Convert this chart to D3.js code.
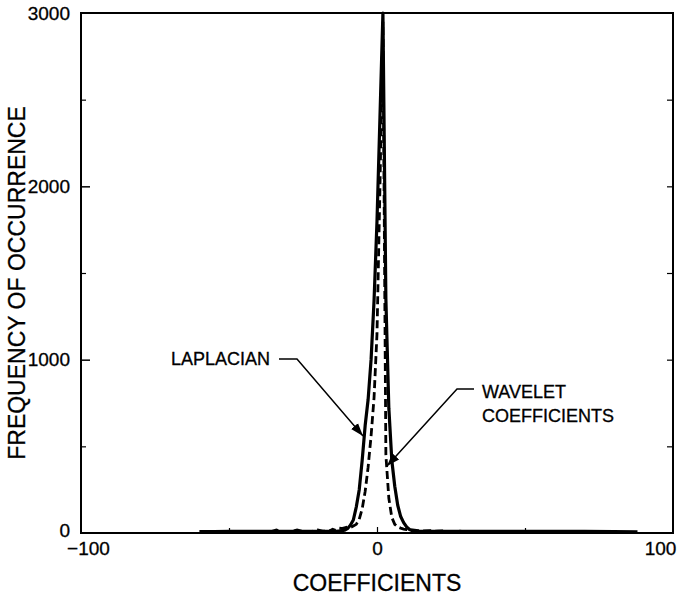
<!DOCTYPE html>
<html>
<head>
<meta charset="utf-8">
<script src="https://cdn.jsdelivr.net/npm/d3@7"></script>
<style>
  html, body { margin: 0; padding: 0; background: #fff; }
  svg { display: block; }
  text { font-family: "Liberation Sans", Arial, Helvetica, sans-serif; fill: #000; stroke: #000; stroke-width: 0.3px; }
</style>
</head>
<body>
<svg id="chart" width="680" height="599"></svg>
<script>
// ---- data ----
const laplacianCoef = [-60,-55,-50,-45,-40,-35,-30,-25,-20,-18,-16,-14,-13,-12,-11,-10,-9,-8,-7,-6,-5,-4,-3,-2,-1,0,1,2,3,4,5,6,7,8,9,10,11,12,13,14,16,18,20,25,30,40,50,60,70,80,88];
const laplacianFreq = [8,8,9,9,9,9,9,9,9,9,10,10,11,12,16,25,45,75,150,250,420,620,770,1000,1340,1800,2400,3000,1350,720,420,270,160,95,60,35,20,13,11,10,10,9,9,9,9,9,9,9,9,8,6];

const waveletCoef = [-40,-36,-34,-32,-29,-27,-25,-22,-20,-18,-17,-16,-15,-14,-13,-12,-11,-10,-9,-8,-7,-6,-5,-4,-3,-2,-1,0,1,2,3,4,5,6,7,8,9,10,12,14,16,18,20,22,25,28,30,35];
const waveletFreq = [6,7,18,7,7,18,8,8,17,10,18,12,22,16,28,26,30,34,32,40,50,80,140,240,380,560,780,1150,2000,2950,450,200,90,50,35,28,22,20,18,14,12,14,10,12,8,10,6,5];

const yMajorTicks = [0, 1000, 2000, 3000];
const yMinorTicks = [500, 1500, 2500];
const yRightTicks = [500, 1000, 1500, 2000, 2500];
const xMajorTicks = [-100, 0, 100];
const xMinorTicks = [-50, 50];

const xTitle = "COEFFICIENTS";
const yTitle = "FREQUENCY OF OCCURRENCE";
const laplacianLabel = "LAPLACIAN";
const waveletLabel = ["WAVELET", "COEFFICIENTS"];

// ---- layout ----
const svg = d3.select("#chart");
const L = 81, R = 673, T = 13, B = 533;
const x = d3.scaleLinear().domain([-100, 100]).range([L, R]);
const y = d3.scaleLinear().domain([0, 3000]).range([B, T]);
const FS = 19;

// frame
svg.append("rect").attr("x", L).attr("y", T).attr("width", R - L).attr("height", B - T)
  .attr("fill", "none").attr("stroke", "#000").attr("stroke-width", 2);

// left axis (major, labelled)
const gl = svg.append("g").attr("transform", `translate(${L},0)`)
  .call(d3.axisLeft(y).tickValues(yMajorTicks).tickSize(-9).tickPadding(11).tickFormat(d3.format("d")));
gl.selectAll("text").style("font-size", FS + "px").attr("dy", "0.32em");
gl.select(".domain").remove();
gl.selectAll("line").attr("stroke-width", 1.5);
gl.selectAll(".tick").filter(d => d === 0 || d === 3000).select("line").remove();
gl.selectAll(".tick").filter(d => d === 0).select("text").attr("dy", "0.2em");

const glm = svg.append("g").attr("transform", `translate(${L},0)`)
  .call(d3.axisLeft(y).tickValues(yMinorTicks).tickSize(-5).tickFormat(""));
glm.select(".domain").remove();
glm.selectAll("line").attr("stroke-width", 1.2);

// right axis
const gr = svg.append("g").attr("transform", `translate(${R},0)`)
  .call(d3.axisRight(y).tickValues(yRightTicks).tickSize(-6).tickFormat(""));
gr.select(".domain").remove();
gr.selectAll("line").attr("stroke-width", 1.2);

// bottom axis
const gb = svg.append("g").attr("transform", `translate(0,${B})`)
  .call(d3.axisBottom(x).tickValues(xMajorTicks).tickSize(-6).tickPadding(9)
    .tickFormat(d => d < 0 ? "\u2212" + Math.abs(d) : d));
gb.select(".domain").remove();
gb.selectAll("text").style("font-size", FS + "px").attr("dy", "0.71em");
gb.selectAll(".tick").filter(d => d !== 0).select("line").remove();
gb.selectAll(".tick").filter(d => d === -100).select("text").attr("dx", 7);
gb.selectAll(".tick").filter(d => d === 100).select("text").attr("dx", -13);
gb.selectAll("line").attr("stroke-width", 1.2);

const gbm = svg.append("g").attr("transform", `translate(0,${B})`)
  .call(d3.axisBottom(x).tickValues(xMinorTicks).tickSize(-5).tickFormat(""));
gbm.select(".domain").remove();
gbm.selectAll("line").attr("stroke-width", 1.2);

// titles
svg.append("text").attr("x", x(0)).attr("y", 591).attr("text-anchor", "middle")
  .style("font-size", "23px").text(xTitle);
svg.append("text").attr("transform", `translate(25,283) rotate(-90)`)
  .attr("text-anchor", "middle").style("font-size", "23px").text(yTitle);

// curves
const lap = laplacianCoef.map((c, i) => [c, laplacianFreq[i]]);
const wav = waveletCoef.map((c, i) => [c, waveletFreq[i]]);
const line = d3.line().x(d => x(d[0])).y(d => y(d[1]));

svg.append("path").datum(lap).attr("d", line).attr("fill", "none")
  .attr("stroke", "#000").attr("stroke-width", 3.2).attr("stroke-linejoin", "round");
svg.append("path").datum(wav).attr("d", line).attr("fill", "none")
  .attr("stroke", "#000").attr("stroke-width", 2.8).attr("stroke-dasharray", "8,4");

// annotations
const defs = svg.append("defs");
defs.append("marker").attr("id", "arrow").attr("viewBox", "0 0 10 10")
  .attr("refX", 10).attr("refY", 5).attr("markerWidth", 13).attr("markerHeight", 13)
  .attr("markerUnits", "userSpaceOnUse").attr("orient", "auto")
  .append("path").attr("d", "M0,1.5 L10,5 L0,8.5 Z").attr("fill", "#000");

svg.append("text").attr("x", 171).attr("y", 365).style("font-size", "18px").text(laplacianLabel);
svg.append("path").attr("d", "M279,359 L297,359 L363,436")
  .attr("fill", "none").attr("stroke", "#000").attr("stroke-width", 1.5).attr("marker-end", "url(#arrow)");

svg.append("text").attr("x", 482).attr("y", 398).style("font-size", "18px").text(waveletLabel[0]);
svg.append("text").attr("x", 482).attr("y", 422).style("font-size", "18px").text(waveletLabel[1]);
svg.append("path").attr("d", "M474,389 L457,389 L387,466")
  .attr("fill", "none").attr("stroke", "#000").attr("stroke-width", 1.5).attr("marker-end", "url(#arrow)");
</script>
</body>
</html>
